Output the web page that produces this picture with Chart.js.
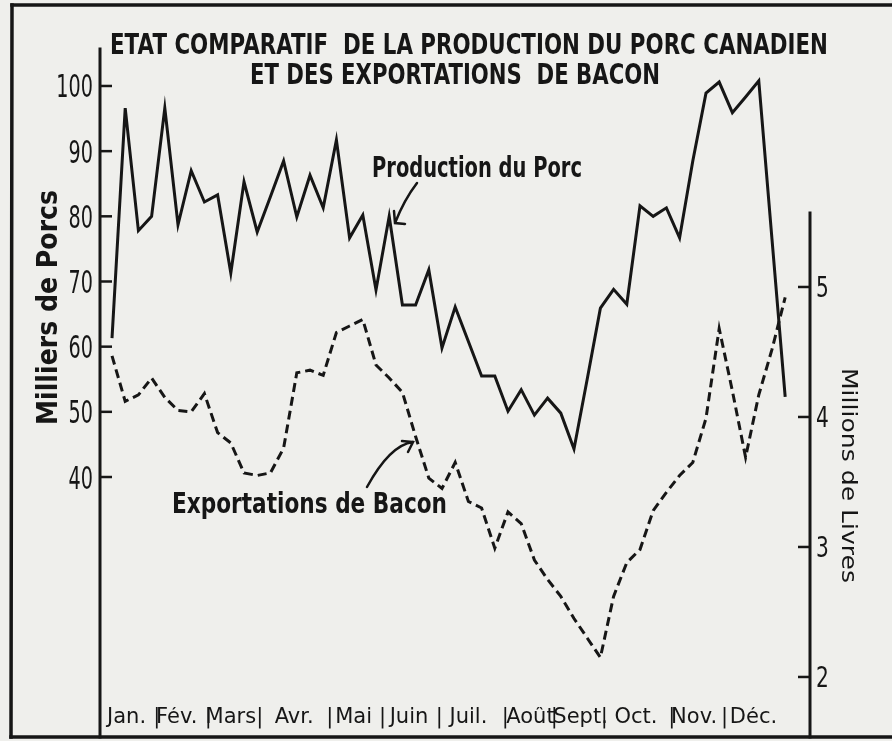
<!DOCTYPE html>
<html lang="fr">
<head>
<meta charset="utf-8">
<title>Etat comparatif de la production du porc canadien</title>
<script src="https://cdn.jsdelivr.net/npm/chart.js@4.4.1/dist/chart.umd.min.js"></script>
<style>
    html, body { margin: 0; padding: 0; background: #efefec; }
    canvas { display: block; }
</style>
</head>
<body>
<canvas id="graphique" width="892" height="741"></canvas>
<script>
// semaines de l'annee
const semaines = [1, 2, 3, 4, 5, 6, 7, 8, 9, 10, 11, 12, 13, 14, 15, 16, 17, 18, 19, 20, 21, 22, 23, 24, 25, 26,
    27, 28, 29, 30, 31, 32, 33, 34, 35, 36, 37, 38, 39, 40, 41, 42, 43, 44, 45, 46, 47, 48, 49, 50, 51, 52];

// production du porc (milliers de porcs)
const productionPorc = [61.3, 96.6, 77.8, 80.0, 96.6, 78.7, 87.0, 82.2, 83.3, 71.3, 85.3, 77.6, 83.0,
    88.5, 79.9, 86.3, 81.3, 91.7, 76.7, 80.2, 68.7, 80.0, 66.4, 66.4, 71.8, 59.8, 66.1,
    60.8, 55.5, 55.5, 50.1, 53.4, 49.5, 52.1, 49.8, 44.3, 55.0, 65.9, 68.8, 66.5, 81.6,
    80.0, 81.3, 76.7, 88.5, 98.9, 100.6, 95.9, 98.3, 100.8, 76.5, 52.3];

// exportations de bacon (millions de livres)
const exportationsBacon = [4.47, 4.12, 4.17, 4.30, 4.15, 4.05, 4.04, 4.18, 3.88, 3.80, 3.57, 3.55, 3.57,
    3.76, 4.34, 4.36, 4.32, 4.65, 4.70, 4.75, 4.40, 4.30, 4.19, 3.85, 3.53, 3.45, 3.65,
    3.35, 3.30, 2.99, 3.27, 3.18, 2.90, 2.75, 2.62, 2.45, 2.30, 2.15, 2.62, 2.88, 2.98,
    3.28, 3.42, 3.55, 3.65, 3.99, 4.68, 4.20, 3.69, 4.17, 4.52, 4.92];

// graduations
const ticksPorcs = [40, 50, 60, 70, 80, 90, 100];
const ticksLivres = [2, 3, 4, 5];
const mois = ["Jan.", "Fév.", "Mars", "Avr.", "Mai", "Juin", "Juil.", "Août", "Sept.", "Oct.", "Nov.", "Déc."];
const posMois = [2.1, 5.9, 10.0, 14.8, 19.3, 23.5, 28.0, 32.7, 36.5, 40.7, 45.1, 49.6];
const posSeparateurs = [4.4, 8.3, 12.2, 17.5, 21.5, 25.8, 30.8, 34.5, 38.3, 43.4, 47.4];

const encre = "#161616";

const ticksX = posMois.concat(posSeparateurs);
const etiquettesX = mois.concat(posSeparateurs.map(() => "|"));

// texte etire/compresse horizontalement pour imiter le lettrage etroit
function texteEtroit(ctx, str, x, y, largeur, taille, poids, angle) {
    ctx.save();
    ctx.font = `${poids} ${taille}px "DejaVu Sans"`;
    const w = ctx.measureText(str).width;
    ctx.translate(x, y);
    if (angle) ctx.rotate(angle);
    ctx.scale(largeur / w, 1);
    ctx.textAlign = "left";
    ctx.textBaseline = "alphabetic";
    ctx.fillStyle = encre;
    ctx.fillText(str, 0, 0);
    ctx.restore();
}

function largeurTexte(ctx, str, taille) {
    ctx.save();
    ctx.font = `normal ${taille}px "DejaVu Sans"`;
    const w = ctx.measureText(str).width;
    ctx.restore();
    return w;
}

function trait(ctx, x1, y1, x2, y2, ep) {
    ctx.beginPath();
    ctx.lineWidth = ep;
    ctx.moveTo(x1, y1);
    ctx.lineTo(x2, y2);
    ctx.stroke();
}

const decor = {
    id: "decor",
    beforeDraw(chart) {
        const ctx = chart.ctx;
        ctx.save();
        ctx.fillStyle = "#efefec";
        ctx.fillRect(0, 0, chart.width, chart.height);
        ctx.restore();
    },
    afterDraw(chart) {
        const ctx = chart.ctx;
        const yP = chart.scales.y;
        const yL = chart.scales.y2;
        ctx.save();
        ctx.strokeStyle = encre;
        ctx.lineCap = "square";

        // cadre
        trait(ctx, 12, 5, 892, 5, 3.5);
        trait(ctx, 12, 5, 11, 737, 3.5);
        trait(ctx, 11, 737, 892, 737, 3.5);

        // axes verticaux
        trait(ctx, yP.right, 49, yP.right, 737, 3);
        trait(ctx, yL.left, 213, yL.left, 737, 3);

        // petites graduations vers l'interieur + etiquettes
        ctx.lineCap = "butt";
        yP.ticks.forEach(t => {
            const py = yP.getPixelForValue(t.value);
            trait(ctx, yP.right, py, yP.right + 12, py, 2.5);
            const s = String(t.value);
            const w = largeurTexte(ctx, s, 32) * 0.6;
            texteEtroit(ctx, s, yP.right - 7 - w, py + 11.5, w, 32, "normal");
        });
        yL.ticks.forEach(t => {
            const py = yL.getPixelForValue(t.value);
            trait(ctx, yL.left - 12, py, yL.left, py, 2.5);
            const s = String(t.value);
            const w = largeurTexte(ctx, s, 28) * 0.72;
            texteEtroit(ctx, s, yL.left + 6, py + 10, w, 28, "normal");
        });

        // titre
        texteEtroit(ctx, "ETAT COMPARATIF  DE LA PRODUCTION DU PORC CANADIEN", 110, 54, 718, 29, "bold");
        texteEtroit(ctx, "ET DES EXPORTATIONS  DE BACON", 250, 84, 410, 29, "bold");

        // titres des axes
        texteEtroit(ctx, "Milliers de Porcs", 57, 425, 235, 28, "bold", -Math.PI / 2);
        texteEtroit(ctx, "Millions de Livres", 842, 368, 215, 21, "normal", Math.PI / 2);

        // legendes dans le graphique
        texteEtroit(ctx, "Production du Porc", 372, 177, 210, 29, "bold");
        texteEtroit(ctx, "Exportations de Bacon", 172, 513, 275, 28, "bold");

        // fleches
        ctx.lineWidth = 2.5;
        ctx.lineCap = "round";
        ctx.beginPath();
        ctx.moveTo(417, 183);
        ctx.quadraticCurveTo(404, 200, 395, 223);
        ctx.moveTo(394, 211);
        ctx.lineTo(395, 223);
        ctx.lineTo(405, 224);
        ctx.stroke();

        ctx.beginPath();
        ctx.moveTo(367, 487);
        ctx.quadraticCurveTo(390, 445, 413, 442);
        ctx.moveTo(402, 441);
        ctx.lineTo(413, 442);
        ctx.lineTo(408, 452);
        ctx.stroke();

        ctx.restore();
    }
};

function dessinerGraphique() {
    const ctx = document.getElementById("graphique");

    new Chart(ctx, {
        type: "line",
        data: {
            datasets: [
                {
                    label: "Production du Porc",
                    data: semaines.map((s, i) => ({ x: s, y: productionPorc[i] })),
                    yAxisID: "y",
                    borderColor: encre,
                    borderWidth: 3,
                    pointRadius: 0,
                    tension: 0,
                    fill: false,
                },
                {
                    label: "Exportations de Bacon",
                    data: semaines.map((s, i) => ({ x: s, y: exportationsBacon[i] })),
                    yAxisID: "y2",
                    borderColor: encre,
                    borderWidth: 3,
                    borderDash: [9, 5],
                    pointRadius: 0,
                    tension: 0,
                    fill: false,
                },
            ]
        },
        options: {
            responsive: false,
            animation: false,
            devicePixelRatio: 1,
            layout: { padding: { top: 50, bottom: 4, left: 0, right: 0 } },
            plugins: {
                legend: { display: false },
                title: { display: false },
                tooltip: { enabled: false },
            },
            scales: {
                x: {
                    type: "linear",
                    min: 0.09,
                    max: 53.88,
                    grid: { display: false, drawTicks: false },
                    border: { display: false },
                    afterBuildTicks: (scale) => {
                        scale.ticks = ticksX.map(v => ({ value: v }));
                    },
                    afterFit: (scale) => { scale.height = 30; },
                    ticks: {
                        autoSkip: false,
                        maxRotation: 0,
                        padding: -2,
                        color: encre,
                        font: { family: '"DejaVu Sans", sans-serif', size: 21 },
                        callback: (v, i) => etiquettesX[i],
                    },
                },
                y: {
                    position: "left",
                    min: 4.71,
                    max: 105.52,
                    grid: { display: false },
                    border: { display: false },
                    afterBuildTicks: (scale) => {
                        scale.ticks = ticksPorcs.map(v => ({ value: v }));
                    },
                    afterFit: (scale) => { scale.width = 100; },
                    ticks: { display: false },
                },
                y2: {
                    position: "right",
                    min: 1.769,
                    max: 6.823,
                    grid: { display: false },
                    border: { display: false },
                    afterBuildTicks: (scale) => {
                        scale.ticks = ticksLivres.map(v => ({ value: v }));
                    },
                    afterFit: (scale) => { scale.width = 82; },
                    ticks: { display: false },
                },
            }
        },
        plugins: [decor]
    });
}

document.addEventListener("DOMContentLoaded", dessinerGraphique);
</script>
</body>
</html>
